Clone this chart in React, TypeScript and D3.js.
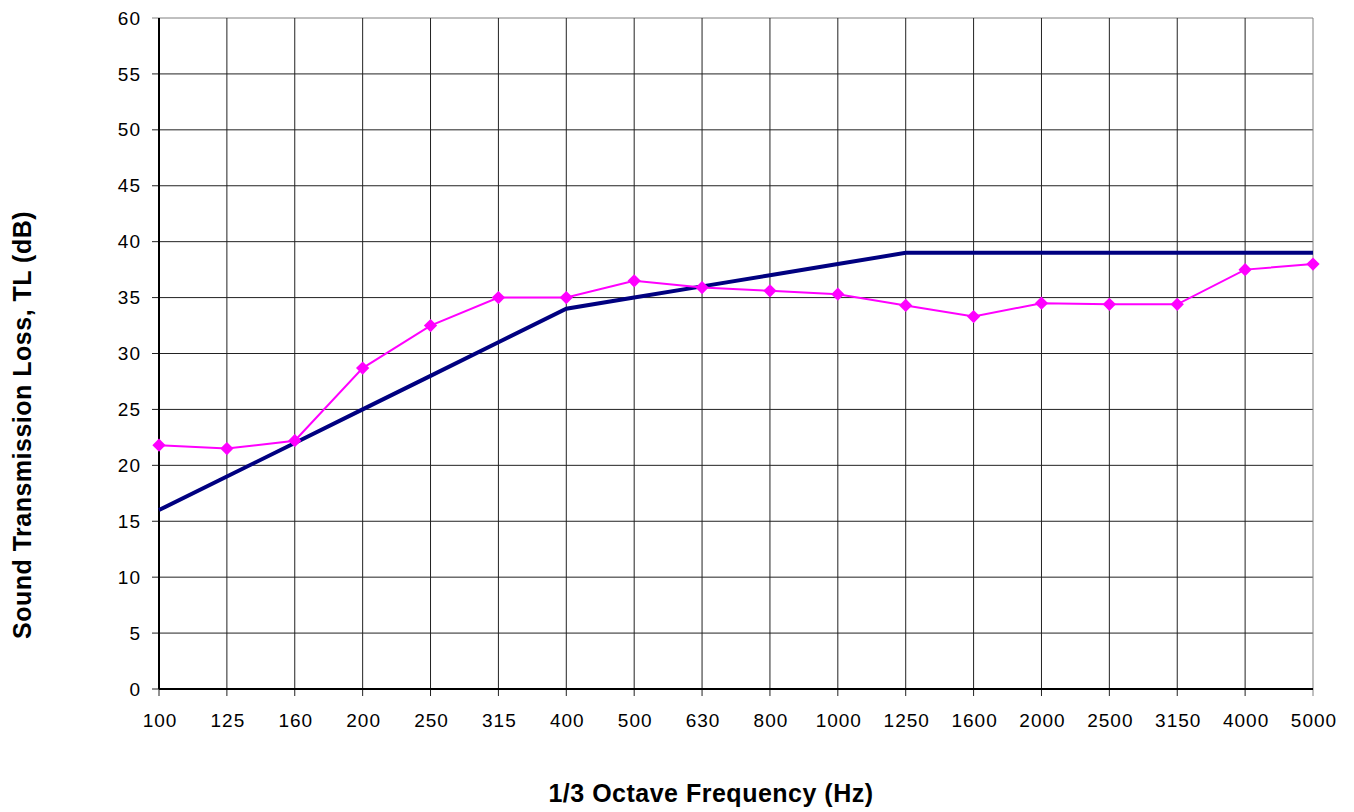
import * as d3 from "d3";
import React from "react";

const width = 1354;
const height = 812;
const margin = { top: 18, right: 41, bottom: 123, left: 159 };

const frequencies = [
  "100", "125", "160", "200", "250", "315", "400", "500", "630",
  "800", "1000", "1250", "1600", "2000", "2500", "3150", "4000", "5000",
];
// measured TL (pink, diamonds)
const measured = [
  21.8, 21.5, 22.2, 28.7, 32.5, 35, 35, 36.5, 35.9,
  35.6, 35.3, 34.3, 33.3, 34.5, 34.4, 34.4, 37.5, 38,
];
// STC reference contour (navy)
const contour = [
  16, 19, 22, 25, 28, 31, 34, 35, 36,
  37, 38, 39, 39, 39, 39, 39, 39, 39,
];
const yTicks = d3.range(0, 61, 5);

const font = "Liberation Sans, Arial, sans-serif";

const App = () => {
  const innerW = width - margin.left - margin.right;
  const innerH = height - margin.top - margin.bottom;

  const xScale = d3
    .scalePoint()
    .domain(frequencies)
    .range([margin.left, margin.left + innerW]);

  const yScale = d3
    .scaleLinear()
    .domain([0, 60])
    .range([margin.top + innerH, margin.top]);

  const line = d3
    .line<number>()
    .x((d, i) => xScale(frequencies[i]) as number)
    .y((d) => yScale(d));

  const diamond = d3.symbol().type(d3.symbolDiamond2).size(112)();

  const x0 = margin.left;
  const x1 = margin.left + innerW;
  const y0 = margin.top + innerH;
  const y1 = margin.top;

  return (
    <svg width={width} height={height} style={{ position: "absolute", left: 0, top: 0 }}>
      <rect width={width} height={height} fill="#fff" />
      {/* horizontal grid */}
      {yTicks.map((t) => (
        <line
          key={"h" + t}
          x1={x0 - 7}
          x2={x1}
          y1={yScale(t)}
          y2={yScale(t)}
          stroke={t === 60 ? "#808080" : "#222"}
          strokeWidth={1}
        />
      ))}
      {/* vertical grid */}
      {frequencies.map((f, i) => (
        <line
          key={"v" + f}
          x1={xScale(f)}
          x2={xScale(f)}
          y1={y1}
          y2={y0 + 7}
          stroke={i === frequencies.length - 1 ? "#808080" : "#222"}
          strokeWidth={1}
        />
      ))}
      {/* axes */}
      <line x1={x0} x2={x0} y1={y1} y2={y0} stroke="#000" strokeWidth={2} />
      <line x1={x0} x2={x1} y1={y0} y2={y0} stroke="#000" strokeWidth={2} />

      {/* y tick labels */}
      {yTicks.map((t) => (
        <text
          key={"yl" + t}
          x={141}
          y={yScale(t)}
          dy="0.35em"
          textAnchor="end"
          fontFamily={font}
          fontSize={19}
          letterSpacing={1}
        >
          {t}
        </text>
      ))}
      {/* x tick labels */}
      {frequencies.map((f) => (
        <text
          key={"xl" + f}
          x={(xScale(f) as number) + 1}
          y={727}
          textAnchor="middle"
          fontFamily={font}
          fontSize={19}
          letterSpacing={1}
        >
          {f}
        </text>
      ))}

      {/* contour line */}
      <path d={line(contour) || ""} fill="none" stroke="#000080" strokeWidth={4} />
      {/* measured line */}
      <path d={line(measured) || ""} fill="none" stroke="#FF00FF" strokeWidth={2} />
      {measured.map((v, i) => (
        <path
          key={"m" + i}
          d={diamond || ""}
          transform={`translate(${xScale(frequencies[i])},${yScale(v)})`}
          fill="#FF00FF"
        />
      ))}

      {/* axis titles */}
      <text
        x={711}
        y={802}
        textAnchor="middle"
        fontFamily={font}
        fontWeight="bold"
        fontSize={25}
        letterSpacing={0.5}
      >
        1/3 Octave Frequency (Hz)
      </text>
      <text
        transform={`translate(31, ${425}) rotate(-90)`}
        textAnchor="middle"
        fontFamily={font}
        fontWeight="bold"
        fontSize={25}
        letterSpacing={0.5}
      >
        Sound Transmission Loss, TL (dB)
      </text>
    </svg>
  );
};

export default App;
